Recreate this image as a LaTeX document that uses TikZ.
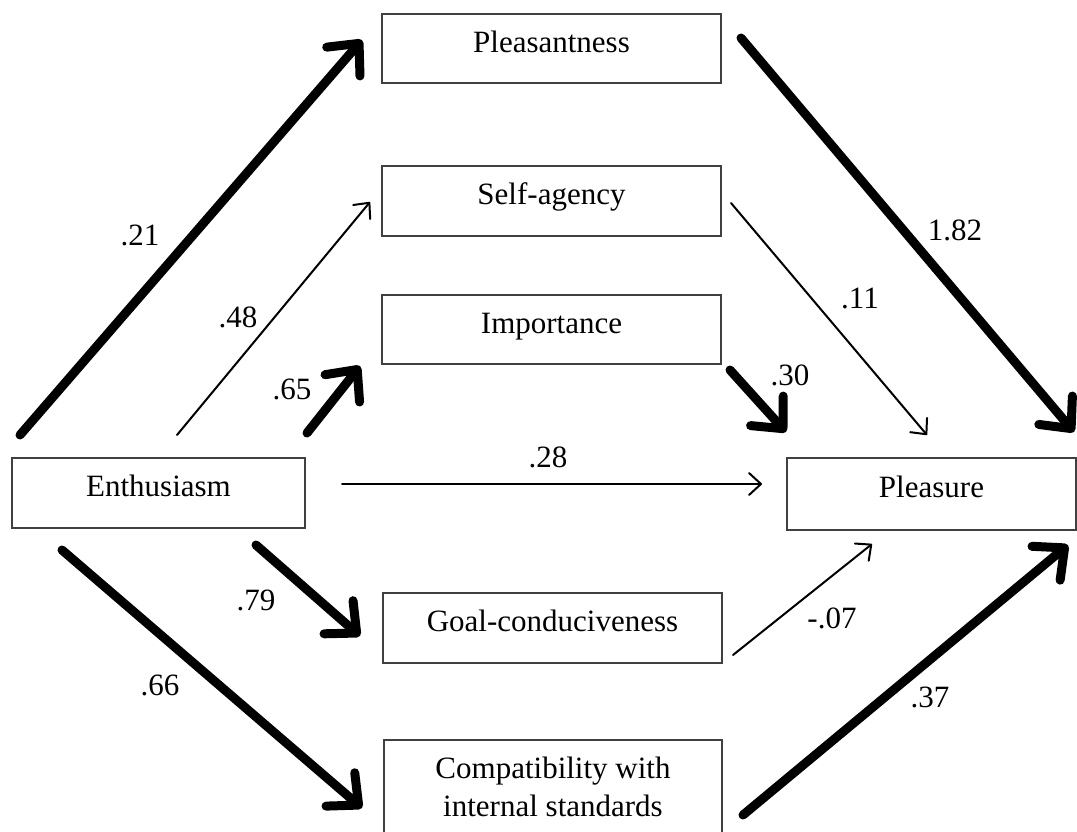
\documentclass[tikz,border=0pt]{standalone}
\usepackage{fontspec}
\setmainfont{Liberation Serif}
\usetikzlibrary{arrows.meta}
\begin{document}
\begin{tikzpicture}[x=0.5pt, y=-0.5pt,
  every node/.style={font=\fontsize{15.5}{17.5}\selectfont},
  box/.style={draw=black!75, line width=0.75pt, fill=white, inner sep=0pt, align=center,
    text height=10.5pt, text depth=7pt},
  twoline/.style={draw=black!75, line width=0.75pt, fill=white, inner sep=0pt, align=center},
  thickarr/.style={line width=4.5pt, line cap=round,
    -{Straight Barb[length=12pt, width=22pt, line cap=round, line join=round]}},
  thinarr/.style={line width=1pt, line cap=round,
    -{Straight Barb[length=6pt, width=11pt, line cap=round, line join=round]}},
  lbl/.style={inner sep=0pt}]
\useasboundingbox (0,0) rectangle (1077,831);
\clip (0,0) rectangle (1077,831);
\fill[white] (0,0) rectangle (1077,831);

% variable boxes
\node[box, minimum width=169.5pt, minimum height=34.5pt] (pleas) at (551.5,48.5) {Pleasantness};
\node[box, minimum width=169.5pt, minimum height=35pt] (self) at (551.5,201) {Self-agency};
\node[box, minimum width=169.5pt, minimum height=34.5pt] (imp) at (551.5,329.5) {Importance};
\node[box, minimum width=146.5pt, minimum height=35pt] (enth) at (158.5,493) {Enthusiasm};
\node[box, minimum width=144.5pt, minimum height=36pt] (pleasure) at (931.5,494) {Pleasure};
\node[box, minimum width=169.5pt, minimum height=35pt] (goal) at (552.5,628) {Goal-conduciveness};
\node[twoline, minimum width=169pt, minimum height=50pt] (comp) at (553,790)
  {\raisebox{4.5pt}{\begin{tabular}{@{}c@{}}Compatibility with\\[1.5pt]internal standards\end{tabular}}};

% free arrow ends
\coordinate (a1s) at (20,435);   \coordinate (a1e) at (362,40);
\coordinate (a2s) at (177,435);  \coordinate (a2e) at (370,202);
\coordinate (a3s) at (307,433);  \coordinate (a3e) at (360,366);
\coordinate (a4s) at (342,484);  \coordinate (a4e) at (762,484);
\coordinate (a5s) at (256,545);  \coordinate (a5e) at (360,636);
\coordinate (a6s) at (62,550);   \coordinate (a6e) at (362,808);
\coordinate (b1s) at (741,38);   \coordinate (b1e) at (1074,432);
\coordinate (b2s) at (731,203);  \coordinate (b2e) at (927,435);
\coordinate (b3s) at (730,370);  \coordinate (b3e) at (786,432);
\coordinate (b4s) at (733,655);  \coordinate (b4e) at (872,544);
\coordinate (b5s) at (743,815);  \coordinate (b5e) at (1068,545);

% paths from Enthusiasm
\draw[thickarr] (a1s) -- (a1e);
\draw[thinarr]  (a2s) -- (a2e);
\draw[thickarr] (a3s) -- (a3e);
\draw[thinarr]  (a4s) -- (a4e);
\draw[thickarr] (a5s) -- (a5e);
\draw[thickarr] (a6s) -- (a6e);

% paths to Pleasure
\draw[thickarr] (b1s) -- (b1e);
\draw[thinarr]  (b2s) -- (b2e);
\draw[thickarr] (b3s) -- (b3e);
\draw[thinarr]  (b4s) -- (b4e);
\draw[thickarr] (b5s) -- (b5e);

% coefficients
\node[lbl] (l21) at (140,235) {.21};
\node[lbl] (l48) at (238,317) {.48};
\node[lbl] (l65) at (292,389) {.65};
\node[lbl] (l28) at (548,457) {.28};
\node[lbl] (l79) at (256,600) {.79};
\node[lbl] (l66) at (160,685) {.66};
\node[lbl] (l182) at (955,230) {1.82};
\node[lbl] (l11) at (860,298) {.11};
\node[lbl] (l30) at (790,375) {.30};
\node[lbl] (l07) at (832,618) {-.07};
\node[lbl] (l37) at (930,697) {.37};
\end{tikzpicture}
\end{document}
